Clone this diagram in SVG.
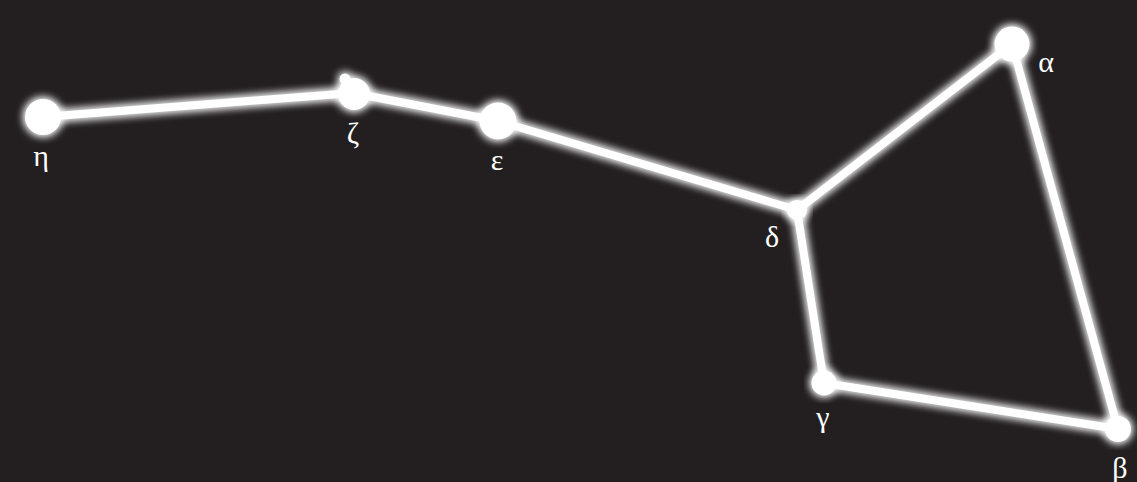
<svg xmlns="http://www.w3.org/2000/svg" width="1137" height="482" viewBox="0 0 1137 482">
  <style>
    .edge { stroke: #ffffff; stroke-width: 8; fill: none; stroke-linecap: round; }
    .star { fill: #ffffff; }
    .lbl { font-family: "Liberation Serif", "Times New Roman", serif; font-size: 30px; fill: #ffffff; text-anchor: middle; }
  </style>
  <defs>
    <filter id="glow" x="-30%" y="-30%" width="160%" height="160%">
      <feGaussianBlur in="SourceGraphic" stdDeviation="5" result="b"/>
      <feMerge>
        <feMergeNode in="b"/>
        <feMergeNode in="b"/>
        <feMergeNode in="SourceGraphic"/>
      </feMerge>
    </filter>
  </defs>
  <rect width="1137" height="482" fill="#231f20"/>
  <g id="connectors" filter="url(#glow)">
    <line class="edge" x1="43" y1="117" x2="353" y2="93"/>
    <line class="edge" x1="353" y1="93" x2="498" y2="121"/>
    <line class="edge" x1="498" y1="121" x2="797" y2="210"/>
    <line class="edge" x1="797" y1="210" x2="1012" y2="44"/>
    <line class="edge" x1="797" y1="210" x2="824" y2="383"/>
    <line class="edge" x1="824" y1="383" x2="1118" y2="429"/>
    <line class="edge" x1="1118" y1="429" x2="1012" y2="44"/>
  </g>
  <g id="eta" filter="url(#glow)">
    <circle class="star" cx="43" cy="117" r="18"/>
  </g>
  <g id="zeta" filter="url(#glow)">
    <circle class="star" cx="354" cy="94" r="16"/>
    <circle class="star" cx="345" cy="79" r="5.5"/>
  </g>
  <g id="epsilon" filter="url(#glow)">
    <circle class="star" cx="498" cy="121" r="18.5"/>
  </g>
  <g id="delta" filter="url(#glow)">
    <circle class="star" cx="797" cy="210" r="10"/>
  </g>
  <g id="alpha" filter="url(#glow)">
    <circle class="star" cx="1012" cy="44" r="17.5"/>
  </g>
  <g id="gamma" filter="url(#glow)">
    <circle class="star" cx="824" cy="383" r="12.5"/>
  </g>
  <g id="beta" filter="url(#glow)">
    <circle class="star" cx="1118" cy="429" r="13"/>
  </g>
  <g id="labels">
    <text class="lbl" x="41" y="166">η</text>
    <text class="lbl" x="353" y="143">ζ</text>
    <text class="lbl" x="497" y="170">ε</text>
    <text class="lbl" x="772" y="247">δ</text>
    <text class="lbl" x="1046" y="72">α</text>
    <text class="lbl" x="823" y="427">γ</text>
    <text class="lbl" x="1120" y="478">β</text>
  </g>
</svg>
